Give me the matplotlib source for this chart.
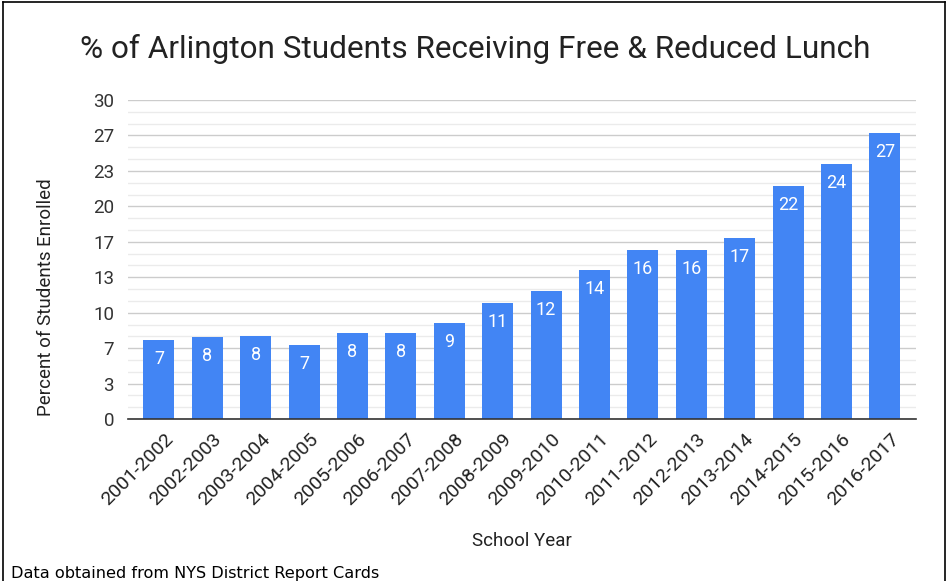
import matplotlib.pyplot as plt
from matplotlib.lines import Line2D
from matplotlib.ticker import FixedLocator
from matplotlib.transforms import ScaledTranslation

# school years and percent of students on free & reduced lunch
years = ['2001-2002', '2002-2003', '2003-2004', '2004-2005', '2005-2006',
         '2006-2007', '2007-2008', '2008-2009', '2009-2010', '2010-2011',
         '2011-2012', '2012-2013', '2013-2014', '2014-2015', '2015-2016',
         '2016-2017']
percents = [7.4, 7.7, 7.8, 7.0, 8.1, 8.1, 9.0, 10.9, 12.0, 14.0,
            15.9, 15.9, 17.0, 21.9, 24.0, 26.9]

major_ticks = [i * 10 / 3 for i in range(10)]
minor_ticks = [i * 10 / 9 for i in range(28)]

plt.rcParams['font.family'] = ['Roboto', 'DejaVu Sans']

fig = plt.figure(figsize=(9.48, 5.81), dpi=100)
ax = fig.add_axes([0.135, 0.2788, 0.831, 0.549])

x = list(range(len(years)))
bars = ax.bar(x, percents, width=0.64, color='#4285F4', zorder=3)

# value labels inside the top of each bar
for rect, val in zip(bars, percents):
    ax.annotate(f'{val:.0f}', (rect.get_x() + rect.get_width() / 2, val),
                xytext=(0, -19), textcoords='offset pixels',
                ha='center', va='center', color='white', fontsize=13, zorder=4)

ax.set_xlim(-0.64, len(years) - 1 + 0.64)
ax.set_ylim(0, 30)
ax.yaxis.set_major_locator(FixedLocator(major_ticks))
ax.yaxis.set_minor_locator(FixedLocator(minor_ticks))
ax.set_yticklabels([f'{t:.0f}' for t in major_ticks])
ax.grid(axis='y', which='major', color='#cccccc', linewidth=1, zorder=0)
ax.grid(axis='y', which='minor', color='#ebebeb', linewidth=1, zorder=0)
ax.tick_params(axis='y', which='both', length=0, pad=10, labelsize=13.5, labelcolor='#333333')
ax.tick_params(axis='x', length=0, pad=8, labelsize=14, labelcolor='#222222')

ax.set_xticks(x)
ax.set_xticklabels(years, rotation=45, ha='right', va='top', rotation_mode='anchor')
# nudge the slanted labels a little to the right, like the original
shift = ScaledTranslation(5 / 100, 0, fig.dpi_scale_trans)
for lbl in ax.get_xticklabels():
    lbl.set_transform(lbl.get_transform() + shift)

for side in ['top', 'right', 'left']:
    ax.spines[side].set_visible(False)
ax.spines['bottom'].set_color('#333333')
ax.spines['bottom'].set_linewidth(1.2)
ax.spines['bottom'].set_zorder(5)

fig.text(0.501, 0.915, '% of Arlington Students Receiving Free & Reduced Lunch',
         ha='center', va='center', fontsize=22.7, color='#222222')
fig.text(0.049, 0.489, 'Percent of Students Enrolled', rotation=90,
         ha='center', va='center', fontsize=13.5, color='#222222')
fig.text(0.551, 0.068, 'School Year', ha='center', va='center',
         fontsize=13.5, color='#222222')
fig.text(0.012, 0.013, 'Data obtained from NYS District Report Cards',
         ha='left', va='center', fontsize=11.6, family='DejaVu Sans', color='black')

# outer border of the screenshot
fig.add_artist(Line2D([3 / 948, 3 / 948], [0, 1 - 2 / 581], color='black', lw=1.2))
fig.add_artist(Line2D([3 / 948, 945 / 948], [1 - 2 / 581, 1 - 2 / 581], color='black', lw=1.2))
fig.add_artist(Line2D([945 / 948, 945 / 948], [0, 1 - 2 / 581], color='black', lw=1.2))

fig.savefig('out.png', dpi=100)
